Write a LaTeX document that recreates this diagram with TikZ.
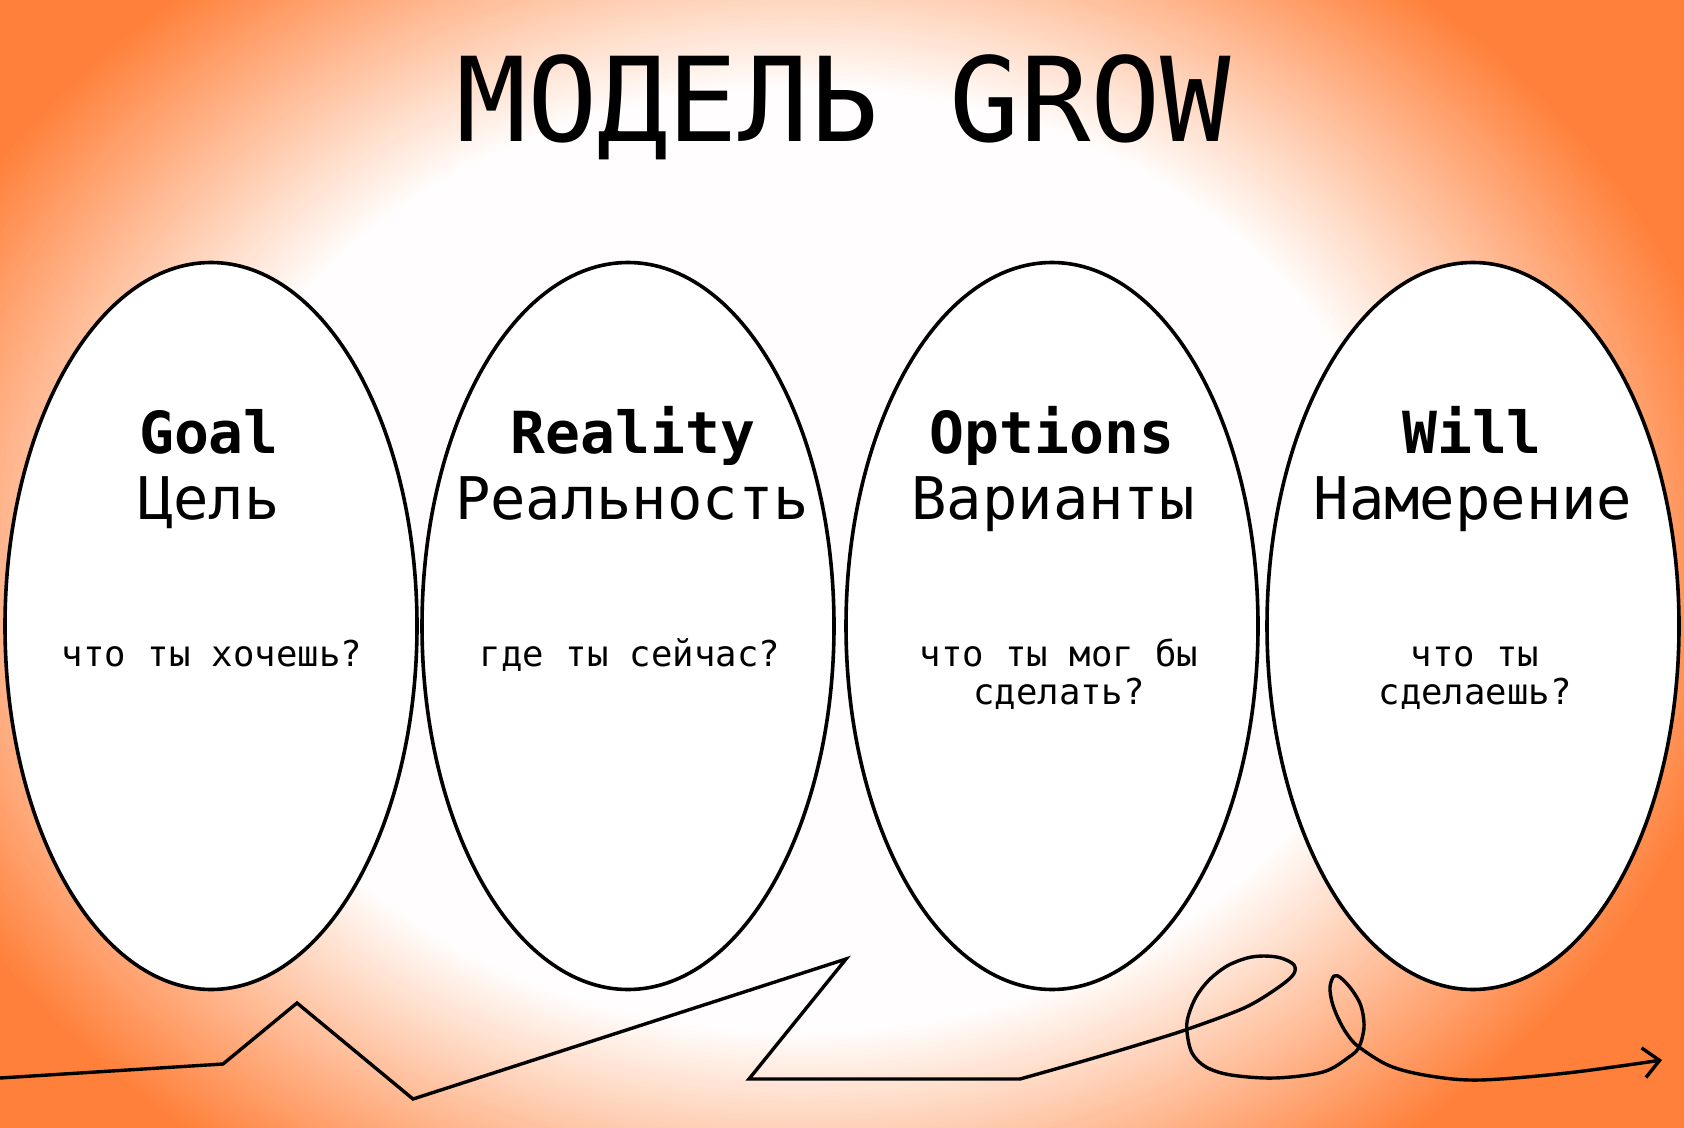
\documentclass[tikz,border=0pt]{standalone}
\usepackage{fontspec}
\setmainfont{DejaVu Sans Mono}
\usetikzlibrary{shapes.geometric,arrows.meta}
\definecolor{bgorange}{RGB}{255,128,58}
\tikzset{
  oval/.style={ellipse, draw=black, fill=white, line width=1.8pt, minimum width=206pt, minimum height=363.5pt, inner sep=0pt},
  titletext/.style={anchor=base, inner sep=0pt, font=\fontsize{58.5pt}{60pt}\selectfont},
  headtext/.style={anchor=base, inner sep=0pt, font=\fontsize{29pt}{31pt}\selectfont\bfseries},
  nametext/.style={anchor=base, inner sep=0pt, font=\fontsize{29.4pt}{31pt}\selectfont},
  asktext/.style={anchor=base, inner sep=0pt, align=center, font=\fontsize{17.8pt}{19pt}\selectfont},
  squiggle/.style={line width=1.7pt, black}
}
\begin{document}
\begin{tikzpicture}[x=0.5pt, y=-0.5pt]
\useasboundingbox (0,0) rectangle (1684,1128);
\fill[bgorange] (0,0) rectangle (1684,1128);
\begin{scope}
  \clip (0,0) rectangle (1684,1128);
  \foreach \i in {0,...,70} {
    \pgfmathsetmacro\rr{950-\i*5}
    \pgfmathsetmacro\ry{\rr/1.2667}
    \pgfmathsetmacro\tt{max(0,min(100,(\rr-596)/3.54))}
    \fill[bgorange!\tt!white] (800,560) ellipse ({\rr} and {\ry});
  }
\end{scope}

\node[titletext] (title) at (844,142) {МОДЕЛЬ GROW};

\node[oval] (g) at (211,626) {};
\node[oval] (r) at (628,626) {};
\node[oval] (o) at (1052,626) {};
\node[oval] (w) at (1473,626) {};

\node[headtext] (gh) at (209,453) {Goal};
\node[nametext] (gn) at (209,519) {Цель};
\node[asktext] (gq) at (212,666) {что ты хочешь?};

\node[headtext] (rh) at (633,453) {Reality};
\node[nametext] (rn) at (632,519) {Реальность};
\node[asktext] (rq) at (630,666) {где ты сейчас?};

\node[headtext] (oh) at (1052,453) {Options};
\node[nametext] (on) at (1053,519) {Варианты};
\node[asktext] (oq) at (1059,704) {что ты мог бы\\сделать?};

\node[headtext] (wh) at (1472,453) {Will};
\node[nametext] (wn) at (1473,519) {Намерение};
\node[asktext] (wq) at (1475,704) {что ты\\сделаешь?};

\draw[squiggle, line join=miter] (0,1078) -- (223,1064) -- (297,1003) -- (413,1099) -- (846,959) -- (749,1079) -- (1020,1079);
\draw[squiggle, line cap=round, line join=round, -{Straight Barb[length=8pt,width=15pt]}]
  plot[smooth, tension=0.55] coordinates {
  (1020,1079) (1087,1060) (1144,1043) (1188,1029) (1244,1008) (1276,989) (1293,975)
  (1294,965) (1281,958) (1264,956) (1247,958) (1227,966) (1209,980) (1196,997)
  (1188,1017) (1187,1032) (1192,1053) (1206,1067) (1231,1075) (1275,1078) (1323,1072)
  (1349,1057) (1359,1047)
  (1364,1027) (1361,1006) (1352,990) (1341,978) (1334,976) (1330,987) (1332,1002)
  (1338,1018) (1347,1034) (1359,1047) (1390,1066) (1430,1076) (1480,1080) (1567,1073) (1662,1060)};
\end{tikzpicture}
\end{document}
